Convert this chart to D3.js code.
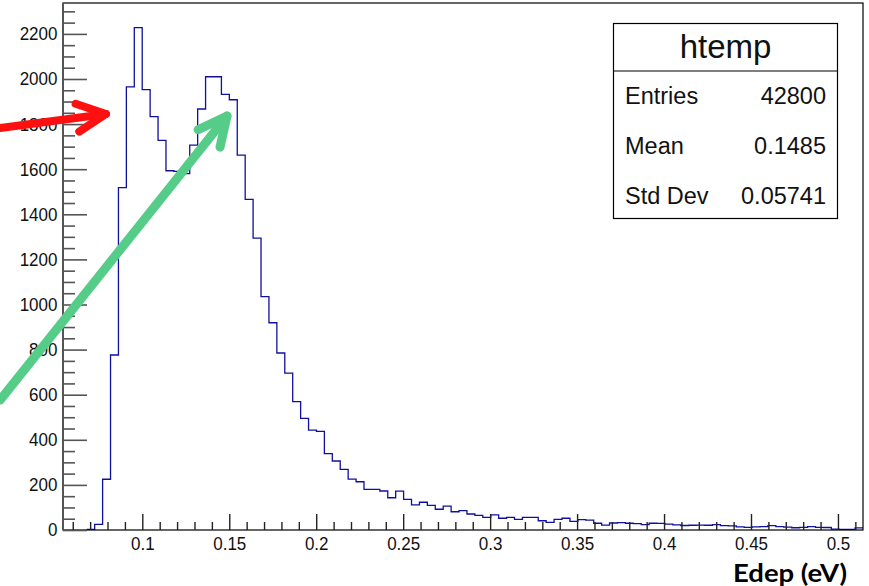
<!DOCTYPE html>
<html>
<head>
<meta charset="utf-8">
<script src="https://cdn.jsdelivr.net/npm/d3@7"></script>
<style>
  body { margin: 0; background: #fff; }
  svg { display: block; font-family: "Liberation Sans", Arial, sans-serif; }
</style>
</head>
<body>
<svg id="chart" width="869" height="586"></svg>
<script>
// histogram range (htemp, 101 bins over the axis)
const X_MIN = 0.0544;
const X_MAX = 0.5144;
const Y_MAX = 2337;

const binCounts = [
  0, 0, 0, 3, 25, 225, 776, 1518, 1965, 2228,
  1953, 1833, 1728, 1593, 1590, 1580, 1707, 1867, 2010, 2010,
  1932, 1908, 1662, 1466, 1294, 1035, 919, 785, 696, 569,
  495, 443, 437, 339, 306, 269, 226, 214, 180, 180,
  173, 143, 172, 136, 111, 123, 109, 92, 106, 81,
  86, 71, 65, 56, 67, 52, 56, 47, 56, 56,
  41, 34, 47, 52, 38, 46, 44, 30, 22, 31,
  33, 30, 28, 24, 30, 29, 26, 23, 20, 21,
  22, 21, 24, 19, 18, 14, 12, 14, 15, 19,
  15, 13, 10, 12, 15, 12, 11, 4, 3, 3,
  9
];

const xTicks = [0.1, 0.15, 0.2, 0.25, 0.3, 0.35, 0.4, 0.45, 0.5];
const xTickLabels = ['0.1', '0.15', '0.2', '0.25', '0.3', '0.35', '0.4', '0.45', '0.5'];
const yTicks = [0, 200, 400, 600, 800, 1000, 1200, 1400, 1600, 1800, 2000, 2200];

const statsTitle = 'htemp';
const statsNames = ['Entries', 'Mean', 'Std Dev'];
const statsValues = ['42800', '0.1485', '0.05741'];

// annotation arrows, tail and tip in data coordinates
const arrows = [
  { color: '#ff1010', width: 8, tail: [0.0182, 1783], tip: [0.0791, 1845] },
  { color: '#55cc88', width: 9, tail: [0.0182, 576], tip: [0.1487, 1836] },
];

const MARGIN = { top: 3, right: 6, bottom: 56, left: 63 };
const W = 869, H = 586;

const svg = d3.select('#chart');

const x = d3.scaleLinear().domain([X_MIN, X_MAX]).range([MARGIN.left, W - MARGIN.right]);
const y = d3.scaleLinear().domain([0, Y_MAX]).range([H - MARGIN.bottom, MARGIN.top]);

const binWidth = (X_MAX - X_MIN) / binCounts.length;

// step outline like ROOT's default histogram drawing
const stepPoints = [];
binCounts.forEach((c, i) => {
  stepPoints.push([X_MIN + i * binWidth, c]);
  stepPoints.push([X_MIN + (i + 1) * binWidth, c]);
});
const line = d3.line().x(d => x(d[0])).y(d => y(d[1]));

svg.append('path')
  .datum(stepPoints.slice(6))
  .attr('fill', 'none')
  .attr('stroke', '#10109e')
  .attr('stroke-width', 1.3)
  .attr('d', line);

// frame
svg.append('rect')
  .attr('x', x(X_MIN)).attr('y', y(Y_MAX))
  .attr('width', x(X_MAX) - x(X_MIN))
  .attr('height', y(0) - y(Y_MAX))
  .attr('fill', 'none')
  .attr('stroke', '#000')
  .attr('stroke-width', 1.2);

// y axis: major and minor ticks pointing into the frame
const yMinor = d3.range(0, Y_MAX, 50).filter(v => v % 200 !== 0);
const yAxisG = svg.append('g').attr('transform', `translate(${x(X_MIN)},0)`);
yAxisG.append('g')
  .call(d3.axisLeft(y).tickValues(yMinor).tickSize(-12).tickFormat(''))
  .call(g => g.select('.domain').remove());
yAxisG.append('g')
  .call(d3.axisLeft(y).tickValues(yTicks).tickSize(-24).tickPadding(6).tickFormat(d3.format('d')))
  .call(g => g.select('.domain').remove());
yAxisG.selectAll('line').attr('stroke', '#555').attr('stroke-width', 1.6);
yAxisG.selectAll('text')
  .attr('font-size', 18.5)
  .attr('fill', '#111')
  .attr('font-family', '"Liberation Sans", Arial, sans-serif')
  .attr('transform', 'scale(0.92,1)');
yAxisG.append('line')
  .attr('y1', y(0)).attr('y2', y(Y_MAX))
  .attr('stroke', '#555').attr('stroke-width', 2);

// x axis
const xMinor = d3.range(0.06, X_MAX, 0.01).filter(v => Math.abs(v * 20 - Math.round(v * 20)) > 1e-6);
const xAxisG = svg.append('g').attr('transform', `translate(0,${y(0)})`);
xAxisG.append('g')
  .call(d3.axisBottom(x).tickValues(xMinor).tickSize(-8).tickFormat(''))
  .call(g => g.select('.domain').remove());
xAxisG.append('g')
  .call(d3.axisBottom(x).tickValues(xTicks).tickSize(-16).tickPadding(7)
    .tickFormat((d, i) => xTickLabels[i]))
  .call(g => g.select('.domain').remove());
xAxisG.selectAll('line').attr('stroke', '#222').attr('stroke-width', 1.4);
xAxisG.selectAll('text')
  .attr('font-size', 18.5)
  .attr('fill', '#111')
  .attr('font-family', '"Liberation Sans", Arial, sans-serif')
  .attr('transform', 'scale(0.92,1)');

// stats box
const box = { x: 613.5, y: 23.5, w: 224, h: 195, split: 71 };
const stats = svg.append('g');
stats.append('rect')
  .attr('x', box.x).attr('y', box.y).attr('width', box.w).attr('height', box.h)
  .attr('fill', '#fff').attr('stroke', '#000').attr('stroke-width', 1.2);
stats.append('line')
  .attr('x1', box.x).attr('x2', box.x + box.w)
  .attr('y1', box.split).attr('y2', box.split)
  .attr('stroke', '#000').attr('stroke-width', 1.2);
stats.append('text')
  .attr('x', box.x + box.w / 2).attr('y', 58)
  .attr('text-anchor', 'middle')
  .attr('font-size', 33)
  .attr('fill', '#111')
  .text(statsTitle);
statsNames.forEach((name, i) => {
  const baseline = 104 + i * 50;
  stats.append('text')
    .attr('x', 625).attr('y', baseline)
    .attr('font-size', 23.5).attr('fill', '#111')
    .text(name);
  stats.append('text')
    .attr('x', 826).attr('y', baseline)
    .attr('text-anchor', 'end')
    .attr('font-size', 23.5).attr('fill', '#111')
    .text(statsValues[i]);
});

// x axis title
svg.append('text')
  .attr('x', 847).attr('y', 582)
  .attr('text-anchor', 'end')
  .attr('font-family', 'Lato, "Open Sans", sans-serif')
  .attr('font-weight', 'bold')
  .attr('font-size', 25.5)
  .attr('textLength', 114)
  .attr('lengthAdjust', 'spacingAndGlyphs')
  .attr('fill', '#000')
  .text('Edep (eV)');

// arrows drawn over everything
arrows.forEach(a => {
  const [tx, ty] = [x(a.tail[0]), y(a.tail[1])];
  const [hx, hy] = [x(a.tip[0]), y(a.tip[1])];
  const back = Math.atan2(ty - hy, tx - hx);
  const arm = 32, spread = 26 * Math.PI / 180;
  const p1 = [hx + arm * Math.cos(back + spread), hy + arm * Math.sin(back + spread)];
  const p2 = [hx + arm * Math.cos(back - spread), hy + arm * Math.sin(back - spread)];
  const g = svg.append('g')
    .attr('fill', 'none')
    .attr('stroke', a.color)
    .attr('stroke-width', a.width)
    .attr('stroke-linecap', 'round')
    .attr('stroke-linejoin', 'round');
  g.append('line').attr('x1', tx).attr('y1', ty).attr('x2', hx).attr('y2', hy);
  g.append('path').attr('d', `M${p1[0]},${p1[1]}L${hx},${hy}L${p2[0]},${p2[1]}`);
});
</script>
</body>
</html>
